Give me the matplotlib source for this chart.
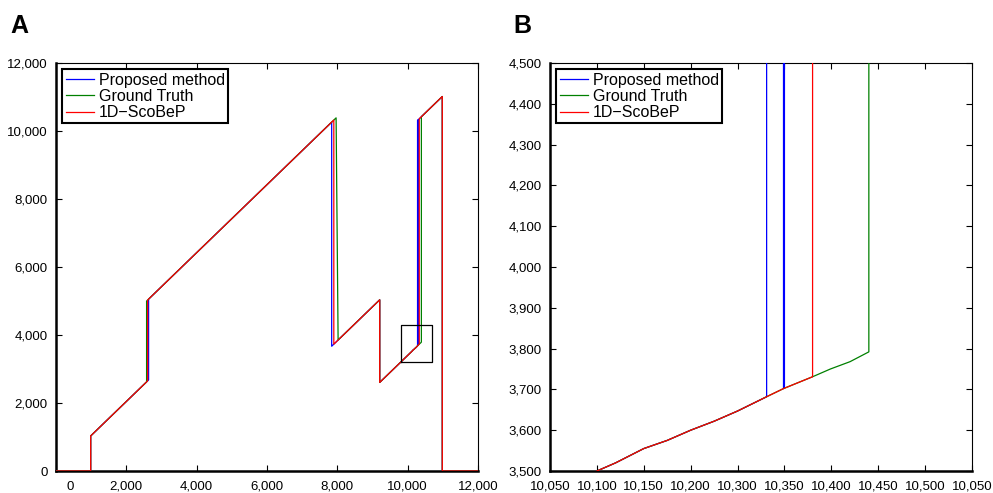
import matplotlib
matplotlib.use("Agg")
import matplotlib.pyplot as plt
import matplotlib.transforms as mtransforms
from matplotlib.ticker import FuncFormatter, FixedLocator, FixedFormatter

plt.rcParams['font.family'] = ['Liberation Sans', 'DejaVu Sans']

# ---- data ----
labels = ["Proposed method", "Ground Truth", "1D\u2212ScoBeP"]
colors = ["#0000ff", "#008000", "#ff0000"]

# shared detailed piece of the 4th rising segment
seg4_x = [9205, 10100, 10120, 10150, 10175, 10200, 10225, 10250, 10281, 10299, 10330, 10349, 10370, 10390]
seg4_y = [2605, 3500, 3520, 3555, 3575, 3600, 3622, 3647, 3682, 3702, 3731, 3750, 3768, 3792]

# Proposed method (blue)
blue_x = [0, 986, 986, 2633, 2633, 7839, 7839, 9205, 9205] + seg4_x[1:9] + [10281, 10299, 10299, 10300, 10300, 10985, 10985, 12000]
blue_y = [0, 0, 1031, 2678, 5055, 10261, 3669, 5035, 2605] + seg4_y[1:9] + [10311, 10329, 3702, 3703, 10330, 11015, 0, 0]

# Ground Truth (green)
green_x = [0, 986, 986, 2576, 2576, 7965, 8022, 9205, 9205] + seg4_x[1:] + [10390, 10985, 10985, 12000]
green_y = [0, 0, 1031, 2621, 4998, 10387, 3852, 5035, 2605] + seg4_y[1:] + [10420, 11015, 0, 0]

# 1D-ScoBeP (red)
red_x = [0, 986, 986, 2605, 2605, 7900, 7900, 9205, 9205] + seg4_x[1:11] + [10330, 10985, 10985, 12000]
red_y = [0, 0, 1031, 2650, 5027, 10322, 3730, 5035, 2605] + seg4_y[1:11] + [10360, 11015, 0, 0]

series_x = [blue_x, green_x, red_x]
series_y = [blue_y, green_y, red_y]

# zoom box drawn on panel A
box_x = [9800, 10700]
box_y = [3200, 4300]

a_xticks = [0, 2000, 4000, 6000, 8000, 10000, 12000]
a_yticks = [0, 2000, 4000, 6000, 8000, 10000, 12000]
b_xticks = [10050, 10100, 10150, 10200, 10250, 10300, 10350, 10400, 10450, 10500]
b_xticklabels = ["10,050", "10,100", "10,150", "10,200", "10,300", "10,350",
                 "10,400", "10,450", "10,500", "10,050"]
b_yticks = [3500, 3600, 3700, 3800, 3900, 4000, 4100, 4200, 4300, 4400, 4500]

# ---- figure ----
fig = plt.figure(figsize=(9.93, 4.93), dpi=100)
axA = fig.add_axes([56/993, 1-471/493, 422/993, 408/493])
axB = fig.add_axes([550/993, 1-471/493, 422/993, 408/493])

comma = FuncFormatter(lambda v, p: f"{int(round(v)):,}")

for ax in (axA, axB):
    for xs, ys, c, lab in zip(series_x, series_y, colors, labels):
        ax.plot(xs, ys, color=c, lw=0.9, label=lab, zorder=3)
    ax.tick_params(direction='in', top=True, right=True, length=4, width=0.8,
                   labelsize=9.5, pad=6)
    ax.tick_params(axis='x', pad=7)
    for s in ('left', 'bottom'):
        ax.spines[s].set_linewidth(1.8)
    for s in ('top', 'right'):
        ax.spines[s].set_linewidth(0.8)
    leg = ax.legend(loc='upper left', fontsize=11.5, frameon=True, fancybox=False,
                    borderpad=0.2, labelspacing=0.08, handlelength=1.8,
                    handletextpad=0.3, borderaxespad=0.4)
    leg.get_frame().set_edgecolor('black')
    leg.get_frame().set_linewidth(1.5)
    leg.get_frame().set_alpha(1)

axA.set_xlim(0, 12000)
axA.set_ylim(0, 12000)
axA.set_xticks(a_xticks)
axA.set_yticks(a_yticks)
axA.xaxis.set_major_formatter(comma)
axA.yaxis.set_major_formatter(comma)
axA.plot([box_x[0], box_x[1], box_x[1], box_x[0], box_x[0]],
         [box_y[0], box_y[0], box_y[1], box_y[1], box_y[0]],
         color='black', lw=0.9, zorder=4)

fig.canvas.draw()
lbl0 = axA.get_xticklabels()[0]
lbl0.set_transform(lbl0.get_transform() + mtransforms.ScaledTranslation(14/100, 0, fig.dpi_scale_trans))

axB.set_xlim(10050, 10500)
axB.set_ylim(3500, 4500)
axB.xaxis.set_major_locator(FixedLocator(b_xticks))
axB.xaxis.set_major_formatter(FixedFormatter(b_xticklabels))
axB.set_yticks(b_yticks)
axB.yaxis.set_major_formatter(comma)

fig.text(10/993, 1-33/493, "A", fontsize=18, fontweight='bold', ha='left', va='baseline')
fig.text(513/993, 1-33/493, "B", fontsize=18, fontweight='bold', ha='left', va='baseline')

fig.savefig("out.png", dpi=100)
